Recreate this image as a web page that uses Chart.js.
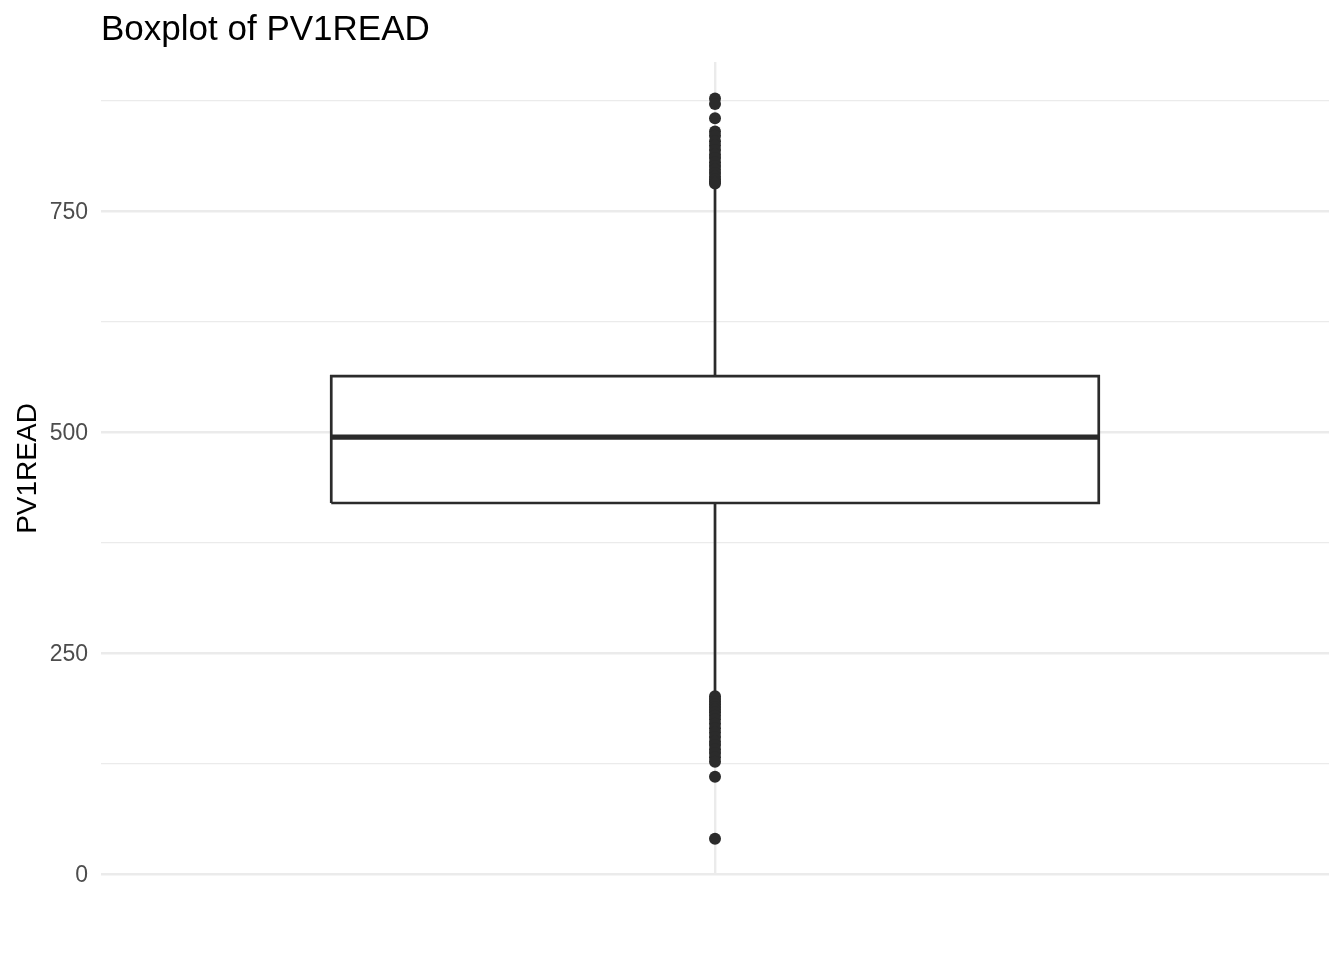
<!DOCTYPE html>
<html>
<head>
<meta charset="utf-8">
<script src="https://cdn.jsdelivr.net/npm/chart.js@4.4.1/dist/chart.umd.min.js"></script>
<style>
html,body{margin:0;padding:0;background:#ffffff;}
#wrap{width:1344px;height:960px;}
</style>
</head>
<body>
<div id="wrap"><canvas id="c" width="1344" height="960"></canvas></div>
<script>
// ---- data ----
const variableName = "PV1READ";
const boxStats = [205, 419.7, 494.3, 563.3, 778]; // lower whisker, Q1, median, Q3, upper whisker
const outliersHigh = [877.3, 871, 855, 840, 835, 829, 824, 819, 814, 810, 805, 801, 797, 793, 789, 786, 783, 781];
const outliersLow = [201, 198, 195, 192, 189, 186, 183, 179, 175, 170, 165, 160, 155, 150, 146, 141, 137, 132, 127, 110, 40];
const yTickValues = [0, 125, 250, 375, 500, 625, 750, 875];
const yLabelValues = [0, 250, 500, 750];

// ---- derived datasets ----
const xc = 1, half = 0.375;
const [lo, q1, med, q3, hi] = boxStats;
const boxOutline = [
  {x: xc - half, y: q1}, {x: xc + half, y: q1}, {x: xc + half, y: q3},
  {x: xc - half, y: q3}, {x: xc - half, y: q1}
];
const medianLine = [{x: xc - half, y: med}, {x: xc + half, y: med}];
const upperWhisker = [{x: xc, y: q3}, {x: xc, y: hi}];
const lowerWhisker = [{x: xc, y: q1}, {x: xc, y: lo}];
const outlierPts = outliersHigh.concat(outliersLow).map(v => ({x: xc, y: v}));

const ink = '#2b2b2b';
const gridCol = '#ebebeb';
const fontFam = '"Liberation Sans", Arial, Helvetica, sans-serif';

new Chart(document.getElementById('c'), {
  type: 'scatter',
  data: {
    datasets: [
      {data: outlierPts, showLine: false, pointRadius: 6, pointBackgroundColor: ink, pointBorderWidth: 0, borderColor: ink},
      {data: medianLine, showLine: true, borderColor: ink, borderWidth: 5.3, pointRadius: 0, borderCapStyle: 'butt'},
      {data: boxOutline, showLine: true, borderColor: ink, borderWidth: 2.7, pointRadius: 0, fill: 'shape', backgroundColor: '#ffffff', borderJoinStyle: 'miter'},
      {data: upperWhisker, showLine: true, borderColor: ink, borderWidth: 2.7, pointRadius: 0},
      {data: lowerWhisker, showLine: true, borderColor: ink, borderWidth: 2.7, pointRadius: 0}
    ]
  },
  options: {
    responsive: false,
    animation: false,
    layout: {padding: {left: 0, right: 15, top: 0, bottom: 0}},
    plugins: {
      legend: {display: false},
      tooltip: {enabled: false},
      title: {
        display: true,
        text: 'Boxplot of ' + variableName,
        align: 'start',
        fullSize: false,
        color: '#000000',
        font: {family: fontFam, size: 35, weight: 'normal'},
        padding: {top: 9, bottom: 11}
      }
    },
    scales: {
      x: {
        type: 'linear',
        min: 0.4,
        max: 1.6,
        afterBuildTicks: s => { s.ticks = [{value: 1}]; },
        afterFit: s => { s.height = 85; },
        ticks: {display: false},
        border: {display: false},
        grid: {color: gridCol, lineWidth: 2.4, drawTicks: false}
      },
      y: {
        type: 'linear',
        min: -1.1,
        max: 918.5,
        afterBuildTicks: s => { s.ticks = yTickValues.map(v => ({value: v})); },
        afterFit: s => { s.width = 101; },
        ticks: {
          padding: 13,
          labelOffset: 2,
          color: '#4d4d4d',
          font: {family: fontFam, size: 23},
          callback: v => yLabelValues.includes(v) ? String(v) : ''
        },
        border: {display: false},
        grid: {
          drawTicks: false,
          color: gridCol,
          lineWidth: ctx => (ctx.tick && yLabelValues.includes(ctx.tick.value)) ? 2.4 : 1.2
        },
        title: {
          display: true,
          text: variableName,
          color: '#000000',
          font: {family: fontFam, size: 28},
          padding: {top: 11, bottom: 0}
        }
      }
    }
  }
});
</script>
</body>
</html>
